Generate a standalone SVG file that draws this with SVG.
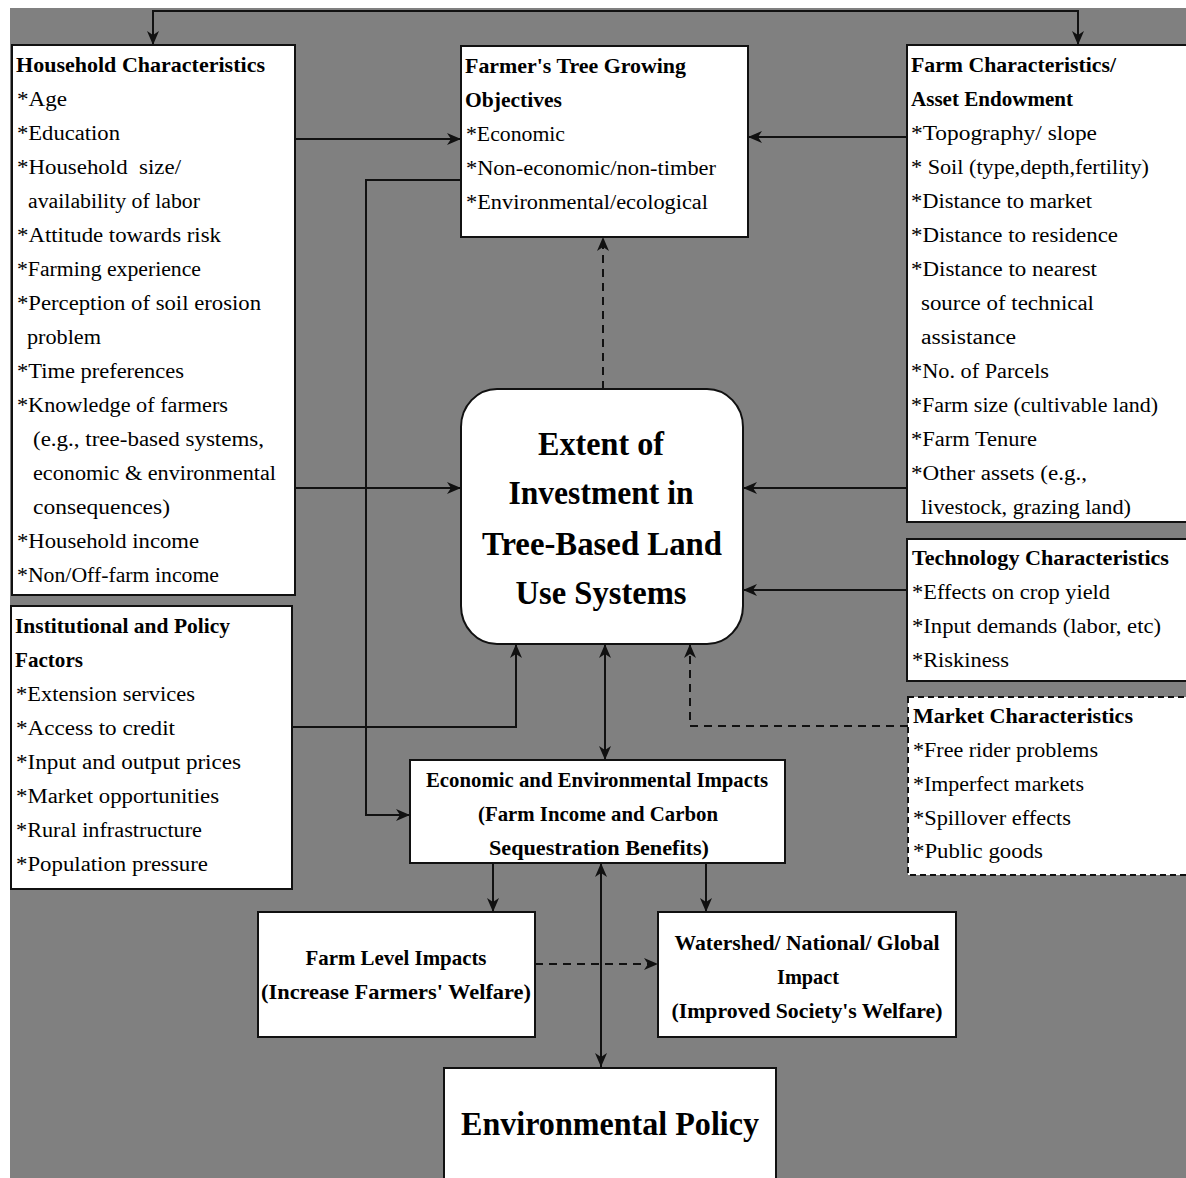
<svg xmlns="http://www.w3.org/2000/svg" width="1186" height="1178" viewBox="0 0 1186 1178">
<style>
.box{fill:#fff;stroke:#111;stroke-width:2}
.dbox{fill:#fff;stroke:#111;stroke-width:2;stroke-dasharray:6 4}
.t{font-family:"Liberation Serif",serif;font-size:20px;fill:#000;white-space:pre}
.b{font-family:"Liberation Serif",serif;font-size:21px;font-weight:bold;fill:#000;white-space:pre}
.c{font-family:"Liberation Serif",serif;font-size:34px;font-weight:bold;fill:#000;text-anchor:middle}
.m{text-anchor:middle}
.ln{fill:none;stroke:#111;stroke-width:2}
.dl{fill:none;stroke:#111;stroke-width:2;stroke-dasharray:8 6}
</style>
<defs>
<marker id="ah" viewBox="0 0 14 12" refX="14" refY="6" markerWidth="14" markerHeight="12" markerUnits="userSpaceOnUse" orient="auto-start-reverse">
<path d="M0,0 L14,6 L0,12 L4,6 Z" fill="#111"/>
</marker>
</defs>
<rect x="0" y="0" width="1186" height="1178" fill="#fff"/>
<rect x="10" y="8" width="1176" height="1170" fill="#808080"/>

<g id="connectors">
<path class="ln" d="M153,45 V11 H1078 V45" marker-start="url(#ah)" marker-end="url(#ah)"/>
<path class="ln" d="M295,139 H461" marker-end="url(#ah)"/>
<path class="ln" d="M907,137 H748" marker-end="url(#ah)"/>
<path class="ln" d="M461,180 H366 V815 H410" marker-end="url(#ah)"/>
<path class="dl" d="M603,389 V237" marker-end="url(#ah)"/>
<path class="ln" d="M295,488 H461" marker-end="url(#ah)"/>
<path class="ln" d="M907,488 H743" marker-end="url(#ah)"/>
<path class="ln" d="M907,590 H743" marker-end="url(#ah)"/>
<path class="ln" d="M292,727 H516 V644" marker-end="url(#ah)"/>
<path class="ln" d="M605,760 V644" marker-start="url(#ah)" marker-end="url(#ah)"/>
<path class="dl" d="M908,726 H690 V644" marker-end="url(#ah)"/>
<path class="ln" d="M493,863 V912" marker-end="url(#ah)"/>
<path class="ln" d="M706,863 V912" marker-end="url(#ah)"/>
<path class="dl" d="M535,964 H658" marker-end="url(#ah)"/>
<path class="ln" d="M601,863 V1067" marker-start="url(#ah)" marker-end="url(#ah)"/>
</g>

<g id="household">
<rect class="box" x="12" y="45" width="283" height="550"/>
<text class="b" x="16" y="72" textLength="249" lengthAdjust="spacingAndGlyphs">Household Characteristics</text>
<text class="t" x="17" y="106" textLength="50" lengthAdjust="spacingAndGlyphs">*Age</text>
<text class="t" x="17" y="140" textLength="103" lengthAdjust="spacingAndGlyphs">*Education</text>
<text class="t" x="17" y="174" textLength="164" lengthAdjust="spacingAndGlyphs">*Household  size/</text>
<text class="t" x="28" y="208" textLength="172" lengthAdjust="spacingAndGlyphs">availability of labor</text>
<text class="t" x="17" y="242" textLength="204" lengthAdjust="spacingAndGlyphs">*Attitude towards risk</text>
<text class="t" x="17" y="276" textLength="184" lengthAdjust="spacingAndGlyphs">*Farming experience</text>
<text class="t" x="17" y="310" textLength="244" lengthAdjust="spacingAndGlyphs">*Perception of soil erosion</text>
<text class="t" x="27" y="344" textLength="74" lengthAdjust="spacingAndGlyphs">problem</text>
<text class="t" x="17" y="378" textLength="167" lengthAdjust="spacingAndGlyphs">*Time preferences</text>
<text class="t" x="17" y="412" textLength="211" lengthAdjust="spacingAndGlyphs">*Knowledge of farmers</text>
<text class="t" x="33" y="446" textLength="231" lengthAdjust="spacingAndGlyphs">(e.g., tree-based systems,</text>
<text class="t" x="33" y="480" textLength="243" lengthAdjust="spacingAndGlyphs">economic &amp; environmental</text>
<text class="t" x="33" y="514" textLength="137" lengthAdjust="spacingAndGlyphs">consequences)</text>
<text class="t" x="17" y="548" textLength="182" lengthAdjust="spacingAndGlyphs">*Household income</text>
<text class="t" x="17" y="582" textLength="202" lengthAdjust="spacingAndGlyphs">*Non/Off-farm income</text>
</g>

<g id="institutional">
<rect class="box" x="11" y="606" width="281" height="283"/>
<text class="b" x="15" y="633" textLength="215" lengthAdjust="spacingAndGlyphs">Institutional and Policy</text>
<text class="b" x="15" y="667" textLength="68" lengthAdjust="spacingAndGlyphs">Factors</text>
<text class="t" x="16" y="701" textLength="179" lengthAdjust="spacingAndGlyphs">*Extension services</text>
<text class="t" x="16" y="735" textLength="159" lengthAdjust="spacingAndGlyphs">*Access to credit</text>
<text class="t" x="16" y="769" textLength="225" lengthAdjust="spacingAndGlyphs">*Input and output prices</text>
<text class="t" x="16" y="803" textLength="203" lengthAdjust="spacingAndGlyphs">*Market opportunities</text>
<text class="t" x="16" y="837" textLength="186" lengthAdjust="spacingAndGlyphs">*Rural infrastructure</text>
<text class="t" x="16" y="871" textLength="192" lengthAdjust="spacingAndGlyphs">*Population pressure</text>
</g>

<g id="objectives">
<rect class="box" x="461" y="46" width="287" height="191"/>
<text class="b" x="465" y="73" textLength="221" lengthAdjust="spacingAndGlyphs">Farmer's Tree Growing</text>
<text class="b" x="465" y="107" textLength="97" lengthAdjust="spacingAndGlyphs">Objectives</text>
<text class="t" x="466" y="141" textLength="99" lengthAdjust="spacingAndGlyphs">*Economic</text>
<text class="t" x="466" y="175" textLength="250" lengthAdjust="spacingAndGlyphs">*Non-economic/non-timber</text>
<text class="t" x="466" y="209" textLength="242" lengthAdjust="spacingAndGlyphs">*Environmental/ecological</text>
</g>

<g id="farm">
<rect class="box" x="907" y="45" width="290" height="477"/>
<text class="b" x="911" y="72" textLength="205" lengthAdjust="spacingAndGlyphs">Farm Characteristics/</text>
<text class="b" x="911" y="106" textLength="162" lengthAdjust="spacingAndGlyphs">Asset Endowment</text>
<text class="t" x="911" y="140" textLength="186" lengthAdjust="spacingAndGlyphs">*Topography/ slope</text>
<text class="t" x="911" y="174" textLength="238" lengthAdjust="spacingAndGlyphs">* Soil (type,depth,fertility)</text>
<text class="t" x="911" y="208" textLength="181" lengthAdjust="spacingAndGlyphs">*Distance to market</text>
<text class="t" x="911" y="242" textLength="207" lengthAdjust="spacingAndGlyphs">*Distance to residence</text>
<text class="t" x="911" y="276" textLength="186" lengthAdjust="spacingAndGlyphs">*Distance to nearest</text>
<text class="t" x="921" y="310" textLength="173" lengthAdjust="spacingAndGlyphs">source of technical</text>
<text class="t" x="921" y="344" textLength="95" lengthAdjust="spacingAndGlyphs">assistance</text>
<text class="t" x="911" y="378" textLength="138" lengthAdjust="spacingAndGlyphs">*No. of Parcels</text>
<text class="t" x="911" y="412" textLength="247" lengthAdjust="spacingAndGlyphs">*Farm size (cultivable land)</text>
<text class="t" x="911" y="446" textLength="126" lengthAdjust="spacingAndGlyphs">*Farm Tenure</text>
<text class="t" x="911" y="480" textLength="176" lengthAdjust="spacingAndGlyphs">*Other assets (e.g.,</text>
<text class="t" x="921" y="514" textLength="210" lengthAdjust="spacingAndGlyphs">livestock, grazing land)</text>
</g>

<g id="technology">
<rect class="box" x="907" y="539" width="290" height="142"/>
<text class="b" x="912" y="565" textLength="257" lengthAdjust="spacingAndGlyphs">Technology Characteristics</text>
<text class="t" x="912" y="599" textLength="198" lengthAdjust="spacingAndGlyphs">*Effects on crop yield</text>
<text class="t" x="912" y="633" textLength="249" lengthAdjust="spacingAndGlyphs">*Input demands (labor, etc)</text>
<text class="t" x="912" y="667" textLength="97" lengthAdjust="spacingAndGlyphs">*Riskiness</text>
</g>

<g id="market">
<rect class="dbox" x="908" y="697" width="290" height="178"/>
<text class="b" x="913" y="723" textLength="220" lengthAdjust="spacingAndGlyphs">Market Characteristics</text>
<text class="t" x="913" y="757" textLength="185" lengthAdjust="spacingAndGlyphs">*Free rider problems</text>
<text class="t" x="913" y="791" textLength="171" lengthAdjust="spacingAndGlyphs">*Imperfect markets</text>
<text class="t" x="913" y="825" textLength="158" lengthAdjust="spacingAndGlyphs">*Spillover effects</text>
<text class="t" x="913" y="858" textLength="130" lengthAdjust="spacingAndGlyphs">*Public goods</text>
</g>

<g id="extent">
<rect class="box" x="461" y="389" width="282" height="255" rx="36" ry="38"/>
<text class="c" x="601" y="455" textLength="126" lengthAdjust="spacingAndGlyphs">Extent of</text>
<text class="c" x="601" y="504" textLength="185" lengthAdjust="spacingAndGlyphs">Investment in</text>
<text class="c" x="602" y="555" textLength="240" lengthAdjust="spacingAndGlyphs">Tree-Based Land</text>
<text class="c" x="601" y="604" textLength="171" lengthAdjust="spacingAndGlyphs">Use Systems</text>
</g>

<g id="economic">
<rect class="box" x="410" y="760" width="375" height="103"/>
<text class="b m" x="597" y="787" textLength="342" lengthAdjust="spacingAndGlyphs">Economic and Environmental Impacts</text>
<text class="b m" x="598" y="821" textLength="240" lengthAdjust="spacingAndGlyphs">(Farm Income and Carbon</text>
<text class="b m" x="599" y="855" textLength="220" lengthAdjust="spacingAndGlyphs">Sequestration Benefits)</text>
</g>

<g id="farmlevel">
<rect class="box" x="258" y="912" width="277" height="125"/>
<text class="b m" x="396" y="965" textLength="181" lengthAdjust="spacingAndGlyphs">Farm Level Impacts</text>
<text class="b m" x="396" y="999" textLength="270" lengthAdjust="spacingAndGlyphs">(Increase Farmers' Welfare)</text>
</g>

<g id="watershed">
<rect class="box" x="658" y="912" width="298" height="125"/>
<text class="b m" x="807" y="950" textLength="265" lengthAdjust="spacingAndGlyphs">Watershed/ National/ Global</text>
<text class="b m" x="808" y="984" textLength="62" lengthAdjust="spacingAndGlyphs">Impact</text>
<text class="b m" x="807" y="1018" textLength="271" lengthAdjust="spacingAndGlyphs">(Improved Society's Welfare)</text>
</g>

<g id="policy">
<rect class="box" x="444" y="1068" width="332" height="120"/>
<text class="c" x="610" y="1135" textLength="298" lengthAdjust="spacingAndGlyphs">Environmental Policy</text>
</g>
</svg>
